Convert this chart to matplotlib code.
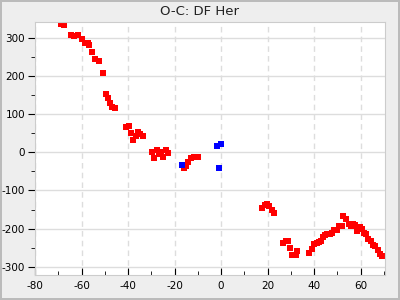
import matplotlib
matplotlib.use('Agg')
import matplotlib.pyplot as plt
from matplotlib.ticker import MultipleLocator

plt.rcParams['axes.unicode_minus'] = False

# O-C data (cycles, minutes)
red_x = [-68.9, -67.5, -64.5, -63.4, -61.6, -59.9, -58.3, -57.3, -56.6, -55.5,
         -54.4, -52.5, -50.7, -49.4, -48.7, -47.8, -46.8, -45.7,
         -41.0, -39.6, -38.7, -37.9, -36.7, -35.7, -34.7, -33.6,
         -29.6, -28.7, -27.6, -26.7, -25.9, -24.9, -23.7, -22.7,
         -16.0, -15.0, -14.0, -13.0, -11.7, -10.0,
         17.8, 18.9, 19.8, 20.8, 21.7, 22.8,
         26.8, 28.0, 29.0, 29.8, 30.7, 32.1, 32.8,
         38.0, 39.0, 40.0, 41.1, 42.1, 42.9, 43.7, 44.7, 45.7, 46.7, 47.7,
         48.6, 49.7, 50.6, 51.9, 52.6, 53.8, 54.9, 55.9, 56.8, 57.7, 58.6,
         59.7, 60.6, 61.6, 62.4, 63.4, 64.4, 65.4, 66.4, 67.6, 68.4, 69.4]
red_y = [338, 334, 308, 306, 308, 297, 287, 286, 282, 263,
         245, 240, 208, 154, 142, 130, 119, 116,
         66, 68, 50, 32, 44, 54, 48, 42,
         0, -15, 5, -5, 2, -13, 5, -3,
         -42, -35, -25, -16, -11, -13,
         -145, -139, -136, -142, -150, -158,
         -239, -233, -232, -250, -268, -268, -258,
         -263, -253, -240, -238, -236, -233, -222, -217, -215, -214, -211,
         -203, -204, -192, -192, -166, -174, -189, -192, -189, -190, -207,
         -196, -200, -211, -215, -226, -233, -244, -245, -257, -266, -273]

blue_x = [-16.9, -1.9, -0.2, -1.0]
blue_y = [-32, 16, 21, -42]

fig = plt.figure(figsize=(4, 3), dpi=100, facecolor='#eeeeee', edgecolor='#bbbbbb', linewidth=1.5)
ax = fig.add_axes([0.0875, 0.083, 0.875, 0.845])
ax.set_facecolor('white')

ax.grid(axis='y', color='#dddddd', linewidth=1, linestyle='-')
ax.grid(axis='x', color='#dddddd', linewidth=1, linestyle=(0, (4, 3)))
ax.set_axisbelow(True)

ax.plot(red_x, red_y, 's', color='#ff0000', markersize=4, markeredgewidth=0)
ax.plot(blue_x, blue_y, 's', color='#0000ff', markersize=4, markeredgewidth=0)

ax.set_xlim(-80, 70.5)
ax.set_ylim(-322, 343)
ax.xaxis.set_major_locator(MultipleLocator(20))
ax.xaxis.set_minor_locator(MultipleLocator(10))
ax.yaxis.set_major_locator(MultipleLocator(100))
ax.yaxis.set_minor_locator(MultipleLocator(50))

for s in ax.spines.values():
    s.set_color('#cccccc')

ax.tick_params(axis='x', which='major', direction='in', length=5, labelsize=7.5, pad=4)
ax.tick_params(axis='x', which='minor', direction='in', length=3)
ax.tick_params(axis='y', which='major', direction='out', length=5, labelsize=7.5, pad=2)
ax.tick_params(axis='y', which='minor', direction='out', length=3)

fig.text(0.5, 0.963, 'O-C: DF Her', ha='center', va='center', fontsize=9.5, color='#222222')

fig.savefig('out.png', dpi=100, facecolor=fig.get_facecolor(), edgecolor=fig.get_edgecolor())
